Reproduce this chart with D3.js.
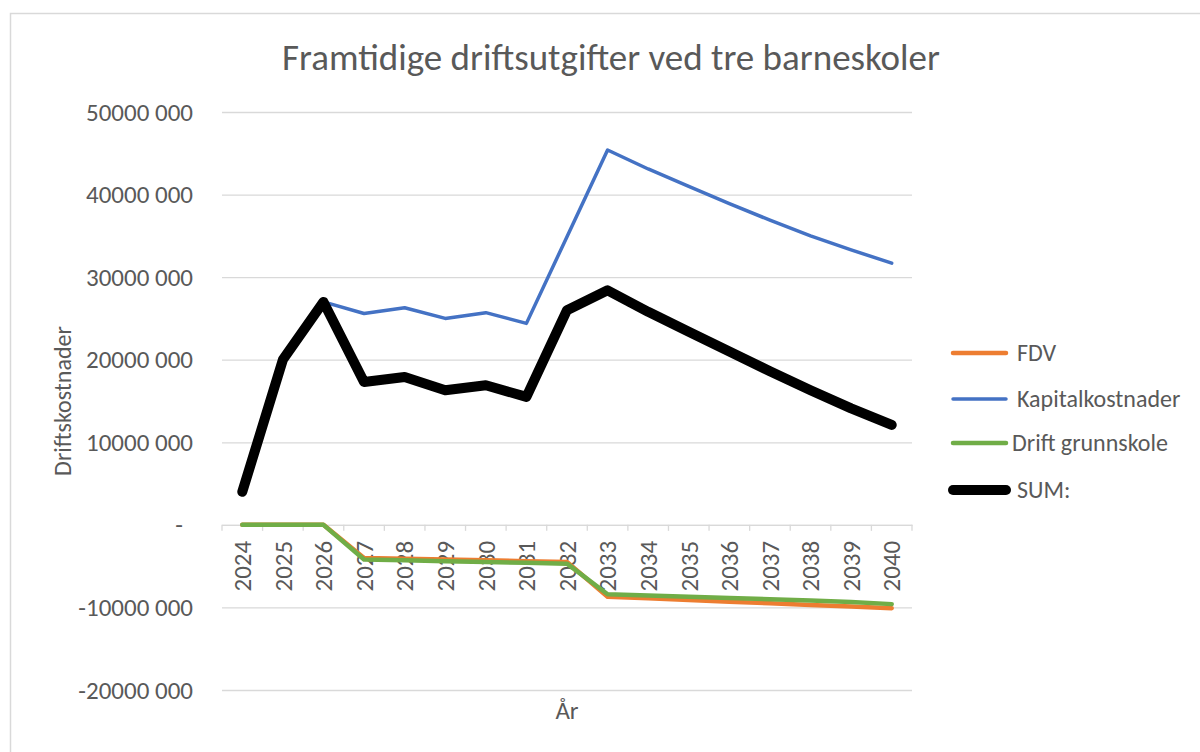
<!DOCTYPE html>
<html>
<head>
<meta charset="utf-8">
<script src="https://cdn.jsdelivr.net/npm/d3@7"></script>
<style>
  body { margin: 0; background: #fff; }
  text { font-family: Carlito, Calibri, Lato, sans-serif; fill: #595959; }
</style>
</head>
<body>
<div id="chart"></div>
<script>
// data
var years = ['2024', '2025', '2026', '2027', '2028', '2029', '2030', '2031', '2032',
             '2033', '2034', '2035', '2036', '2037', '2038', '2039', '2040'];
var fdv = [0, 0, 0, -4000000, -4100000, -4200000, -4300000, -4400000, -4500000,
           -8700000, -8900000, -9100000, -9300000, -9500000, -9700000, -9900000, -10100000];
var kapital = [4000000, 20000000, 27000000, 25600000, 26300000, 25000000, 25700000, 24400000, 34900000,
               45400000, 43100000, 41000000, 38900000, 36900000, 35000000, 33300000, 31700000];
var drift = [0, 0, 0, -4200000, -4300000, -4400000, -4500000, -4600000, -4700000,
             -8400000, -8550000, -8700000, -8850000, -9000000, -9150000, -9350000, -9600000];
var sum = [4000000, 20000000, 27000000, 17300000, 17900000, 16300000, 16900000, 15500000, 26000000,
           28400000, 25800000, 23400000, 21000000, 18600000, 16300000, 14100000, 12100000];
var yTicks = [-20000000, -10000000, 0, 10000000, 20000000, 30000000, 40000000, 50000000];
var yTickLabels = ['-20000 000', '-10000 000', '-', '10000 000', '20000 000', '30000 000', '40000 000', '50000 000'];
var seriesNames = ['FDV', 'Kapitalkostnader', 'Drift grunnskole', 'SUM:'];

var width = 1200;
var height = 752;
var plot = {left: 222, right: 912, top: 112, bottom: 690};

var series = [
  {name: seriesNames[0], values: fdv, color: '#ED7D31', width: 4.5},
  {name: seriesNames[1], values: kapital, color: '#4472C4', width: 3.5},
  {name: seriesNames[2], values: drift, color: '#70AD47', width: 4.5},
  {name: seriesNames[3], values: sum, color: '#000000', width: 10}
];

var svg = d3.select('#chart').append('svg')
            .attr('width', width)
            .attr('height', height);

// chart frame
svg.append('rect')
   .attr('x', 10.5).attr('y', 13.5)
   .attr('width', 1220).attr('height', 760)
   .attr('fill', 'none')
   .attr('stroke', '#d9d9d9')
   .attr('stroke-width', 1.5);

var x = d3.scaleBand().domain(years).range([plot.left, plot.right]);
var y = d3.scaleLinear().domain([-20000000, 50000000]).range([plot.bottom, plot.top]);

// y axis + gridlines
var yAxis = d3.axisLeft(y)
              .tickValues(yTicks)
              .tickSizeInner(-(plot.right - plot.left))
              .tickSizeOuter(0)
              .tickPadding(29)
              .tickFormat(function(d, i) { return yTickLabels[i]; });

var yg = svg.append('g').attr('class', 'yaxisWrapper')
            .attr('transform', 'translate(' + plot.left + ',0)')
            .call(yAxis);
yg.select('.domain').remove();
yg.selectAll('.tick line').attr('stroke', '#d9d9d9').attr('stroke-width', 1.3);
yg.selectAll('.tick text')
  .attr('font-size', '25px')
  .attr('fill', '#595959')
  .attr('font-family', null)
  .attr('dx', function(d) { return d === 0 ? -10 : 0; });

// x axis on the zero line
var xAxis = d3.axisBottom(x).tickSize(0).tickPadding(0);
var xg = svg.append('g').attr('class', 'xaxisWrapper')
            .attr('transform', 'translate(0,' + y(0) + ')')
            .call(xAxis);
xg.select('.domain').attr('stroke', '#d9d9d9').attr('stroke-width', 1.3);
xg.selectAll('.tick text')
  .attr('font-size', '25px')
  .attr('fill', '#595959')
  .attr('font-family', null)
  .attr('transform', 'rotate(-90)')
  .attr('text-anchor', 'end')
  .attr('x', -16)
  .attr('y', 0)
  .attr('dy', '0.35em');

// tick marks between categories
var bounds = years.map(function(d) { return x(d); }).concat([plot.right]);
xg.selectAll('line.sep').data(bounds).enter()
  .append('line')
  .attr('class', 'sep')
  .attr('x1', function(d) { return d; })
  .attr('x2', function(d) { return d; })
  .attr('y1', 0).attr('y2', 6)
  .attr('stroke', '#d9d9d9')
  .attr('stroke-width', 1.3);

// lines
var lineFunc = d3.line()
                 .x(function(d, i) { return x(years[i]) + x.bandwidth() / 2; })
                 .y(function(d) { return y(d); });

svg.append('g').attr('class', 'linesWrapper')
   .selectAll('path').data(series).enter()
   .append('path')
   .attr('d', function(d) { return lineFunc(d.values); })
   .attr('fill', 'none')
   .attr('stroke', function(d) { return d.color; })
   .attr('stroke-width', function(d) { return d.width; })
   .attr('stroke-linejoin', 'round')
   .attr('stroke-linecap', 'round');

// title and axis titles
svg.append('text')
   .attr('x', 611).attr('y', 70)
   .attr('text-anchor', 'middle')
   .attr('font-size', '37px')
   .text('Framtidige driftsutgifter ved tre barneskoler');

svg.append('text')
   .attr('transform', 'translate(71,401) rotate(-90)')
   .attr('text-anchor', 'middle')
   .attr('font-size', '24px')
   .text('Driftskostnader');

svg.append('text')
   .attr('x', 567).attr('y', 719)
   .attr('text-anchor', 'middle')
   .attr('font-size', '25px')
   .text('År');

// legend
var legendY = [353, 399, 443, 490];
var legendTextX = [1017, 1017, 1012, 1017];
var legend = svg.append('g').attr('class', 'legendWrapper')
                .selectAll('g').data(series).enter()
                .append('g')
                .attr('transform', function(d, i) { return 'translate(0,' + legendY[i] + ')'; });
legend.append('line')
      .attr('x1', 953).attr('x2', 1006)
      .attr('y1', 0).attr('y2', 0)
      .attr('stroke', function(d) { return d.color; })
      .attr('stroke-width', function(d) { return d.width; })
      .attr('stroke-linecap', 'round');
legend.append('text')
      .attr('x', function(d, i) { return legendTextX[i]; })
      .attr('y', 0)
      .attr('dy', '0.35em')
      .attr('font-size', '24px')
      .text(function(d) { return d.name; });
</script>
</body>
</html>
